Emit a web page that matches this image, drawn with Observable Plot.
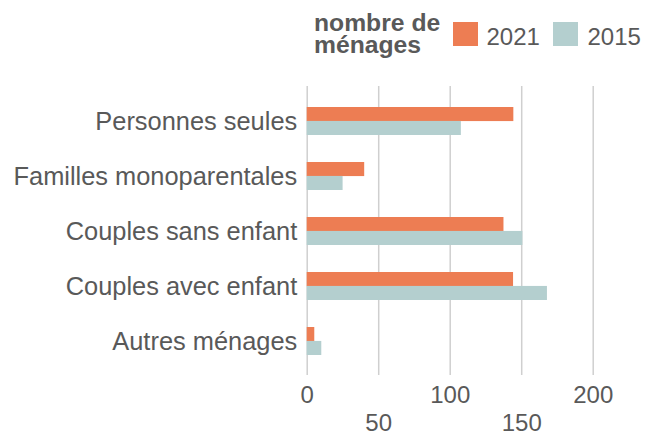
<!DOCTYPE html>
<html>
<head>
<meta charset="utf-8">
<script src="https://cdn.jsdelivr.net/npm/d3@7"></script>
<script src="https://cdn.jsdelivr.net/npm/@observablehq/plot@0.6"></script>
<style>
  html, body { margin: 0; padding: 0; background: #fff; }
  body { width: 648px; height: 432px; overflow: hidden; font-family: "Liberation Sans", Arial, sans-serif; color: #595959; }
  #legend { position: relative; height: 68px; width: 648px; }
  #legend .title { position: absolute; left: 314px; font-size: 24.7px; font-weight: bold; line-height: 22px; white-space: nowrap; }
  #legend .sw { position: absolute; top: 22px; width: 25px; height: 24px; }
  #legend .lab { position: absolute; top: 24.5px; font-size: 24px; line-height: 24px; }
  #chart svg { overflow: visible; }
</style>
</head>
<body>
<div id="legend"></div>
<div id="chart"></div>
<script>
const categories = ["Personnes seules", "Familles monoparentales", "Couples sans enfant", "Couples avec enfant", "Autres ménages"];
const values2021 = [144.5, 40.2, 137.6, 144.3, 5.3];
const values2015 = [107.8, 25.1, 150.8, 168, 10.2];
const seriesNames = ["2021", "2015"];
const seriesColors = ["#ED7D53", "#B4CFCF"];
const xTicksUpper = [0, 100, 200];
const xTicksLower = [50, 150];
const gridTicks = [0, 50, 100, 150, 200];
const legendTitle = ["nombre de", "ménages"];

const data = categories.map((c, i) => ({cat: c, v2021: values2021[i], v2015: values2015[i]}));

// legend
const leg = document.getElementById("legend");
legendTitle.forEach((line, i) => {
  const t = document.createElement("div");
  t.className = "title";
  t.style.top = (11.5 + i * 22) + "px";
  t.textContent = line;
  leg.appendChild(t);
});
const swX = [452.7, 553];
const labX = [486.5, 587.5];
seriesNames.forEach((s, i) => {
  const sw = document.createElement("div");
  sw.className = "sw";
  sw.style.left = swX[i] + "px";
  sw.style.background = seriesColors[i];
  leg.appendChild(sw);
  const lb = document.createElement("div");
  lb.className = "lab";
  lb.style.left = labX[i] + "px";
  lb.textContent = s;
  leg.appendChild(lb);
});

const half = 55.7 * 0.5 / 2;

const chart = Plot.plot({
  width: 648,
  height: 364,
  marginLeft: 306.7,
  marginRight: 55.3,
  marginTop: 9.5,
  marginBottom: 48.2,
  style: {fontFamily: '"Liberation Sans", Arial, sans-serif', color: "#595959", background: "#fff", overflow: "visible"},
  x: {domain: [0, 200], axis: null},
  y: {domain: categories, padding: 0.5, axis: null},
  marks: [
    Plot.gridX(gridTicks, {stroke: "#cfcfcf", strokeOpacity: 1, strokeWidth: 1.5, insetTop: 8.5, insetBottom: 8.8}),
    Plot.barX(data, {x: "v2021", y: "cat", fill: seriesColors[0], insetBottom: half}),
    Plot.barX(data, {x: "v2015", y: "cat", fill: seriesColors[1], insetTop: half}),
    Plot.axisY({tickSize: 0, tickPadding: 10, fontSize: 25.4, label: null}),
    Plot.axisX(xTicksUpper, {tickSize: 0, tickPadding: 2, fontSize: 24, label: null}),
    Plot.axisX(xTicksLower, {tickSize: 0, tickPadding: 29.5, fontSize: 24, label: null})
  ]
});
document.getElementById("chart").appendChild(chart);
</script>
</body>
</html>
